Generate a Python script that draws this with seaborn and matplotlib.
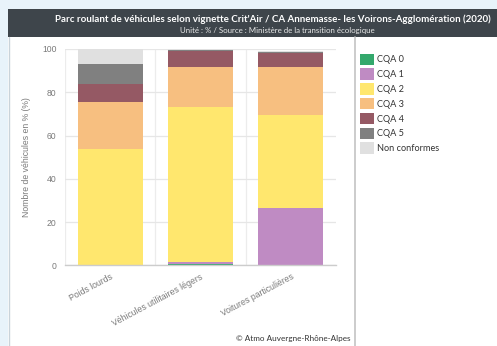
import matplotlib
matplotlib.use("Agg")
import matplotlib.pyplot as plt
from matplotlib.patches import Rectangle, Patch
from matplotlib.lines import Line2D
import seaborn as sns
import pandas as pd

categories = ["Poids lourds", "Véhicules utilitaires légers", "Voitures particulières"]
classes = ["CQA 0", "CQA 1", "CQA 2", "CQA 3", "CQA 4", "CQA 5", "Non conformes"]
cqa0 = [0.0, 0.7, 0.2]
cqa1 = [0.0, 0.8, 26.2]
cqa2 = [53.9, 71.8, 43.1]
cqa3 = [21.7, 18.5, 22.0]
cqa4 = [8.4, 7.4, 6.8]
cqa5 = [9.2, 0.5, 0.4]
non_conformes = [6.8, 0.3, 0.3]
colors = ["#33a86c", "#bf8bc3", "#ffe76e", "#f7bf80", "#955964", "#808080", "#e0e0e0"]

series = [cqa0, cqa1, cqa2, cqa3, cqa4, cqa5, non_conformes]
rows = []
for cls, vals in zip(classes, series):
    for cat, v in zip(categories, vals):
        rows.append({"cat": cat, "cls": cls, "val": v})
df = pd.DataFrame(rows)

sns.set_style("white")
plt.rcParams["font.family"] = ["Liberation Sans", "DejaVu Sans"]

W, H = 497, 346
fig = plt.figure(figsize=(W / 100, H / 100), dpi=100)
fig.patch.set_facecolor("white")

def fx(px):
    return px / W

def fy(py):
    return 1 - py / H

# page background bands
fig.patches.append(Rectangle((0, fy(9)), 1, 9 / H, transform=fig.transFigure,
                             facecolor="#e8f3fa", edgecolor="none", zorder=0))
fig.patches.append(Rectangle((0, 0), fx(8), 1, transform=fig.transFigure,
                             facecolor="#e8f3fa", edgecolor="none", zorder=0))
# header
fig.patches.append(Rectangle((fx(8), fy(37)), 1, 28 / H, transform=fig.transFigure,
                             facecolor="#3e454b", edgecolor="none", zorder=1))
# borders
fig.add_artist(Line2D([fx(8.5), fx(8.5)], [0, fy(37)], transform=fig.transFigure,
                      color="#c9d3da", lw=1))
fig.add_artist(Line2D([fx(355), fx(355)], [0, fy(37)], transform=fig.transFigure,
                      color="#c4c4c4", lw=1.2))

fig.text(fx(273), fy(19.5), "Parc roulant de véhicules selon vignette Crit'Air / CA Annemasse- les Voirons-Agglomération (2020)",
         ha="center", va="center", color="white", fontsize=7.05, fontweight="bold", family="Lato")
fig.text(fx(277.5), fy(31), "Unité : % / Source : Ministère de la transition écologique",
         ha="center", va="center", color="#e8e8e8", fontsize=5.7, family="Lato")

ax = fig.add_axes([fx(65), fy(265.3), (336 - 65) / W, (265.3 - 49) / H])
sns.histplot(data=df, x="cat", hue="cls", weights="val", multiple="stack",
             discrete=True, shrink=0.72, hue_order=classes[::-1],
             palette=dict(zip(classes, colors)), alpha=1, linewidth=0,
             legend=False, ax=ax)

ax.set_ylim(0, 100)
ax.set_xlim(-0.5, 2.5)
ax.set_yticks([0, 20, 40, 60, 80, 100])
ax.set_yticklabels(["0", "20", "40", "60", "80", "100"])
ax.set_xticks(range(len(categories)))
ax.set_xticklabels(categories, rotation=28, ha="right", rotation_mode="anchor")
for x in [-0.5, 0.5, 1.5]:
    ax.axvline(x, color="#ececec", lw=0.9, zorder=0)
ax.yaxis.grid(True, color="#e6e6e6", lw=0.9)
ax.set_axisbelow(True)
for s in ["top", "right", "left"]:
    ax.spines[s].set_visible(False)
ax.spines["bottom"].set_color("#cccccc")
ax.spines["bottom"].set_linewidth(1)
ax.tick_params(axis="both", length=0, labelsize=6.2, labelcolor="#7a7a7a")
ax.tick_params(axis="y", pad=6)
ax.tick_params(axis="x", pad=5)
ax.set_xlabel("")
ax.set_ylabel("Nombre de véhicules en % (%)", fontsize=6.2, color="#7a7a7a")
ax.yaxis.set_label_coords(-0.125, 0.5)

handles = [Patch(facecolor=c, edgecolor="none") for c in colors]
fig.legend(handles, classes, loc="upper left", bbox_to_anchor=(fx(356), fy(50)),
           frameon=False, handlelength=1.55, handleheight=1.55,
           labelspacing=0.36, handletextpad=0.3, borderaxespad=0,
           prop={"family": "Lato", "size": 6.6}, labelcolor="#333333")

fig.text(fx(351), fy(339), "© Atmo Auvergne-Rhône-Alpes", ha="right", va="center",
         fontsize=5.9, color="#333333", family="Lato")

fig.savefig("out.png", dpi=100)
